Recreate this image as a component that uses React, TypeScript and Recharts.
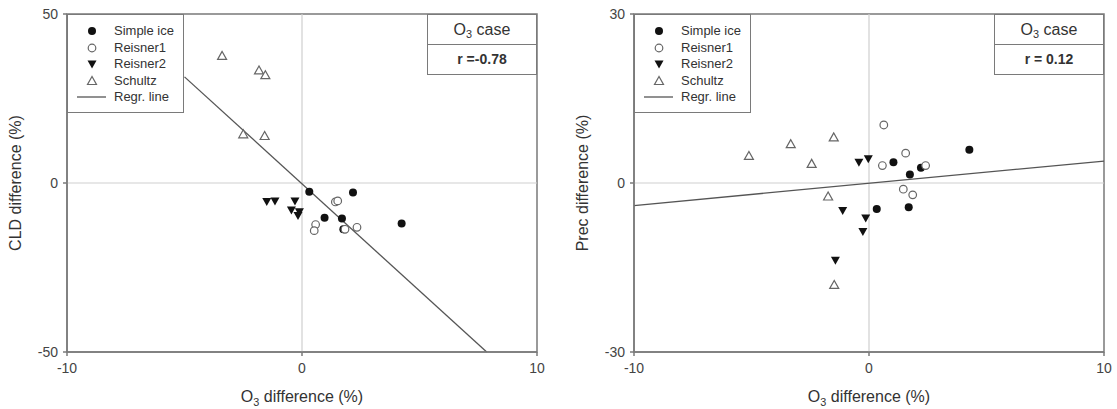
import React from 'react';
import { ScatterChart, Scatter, XAxis, YAxis, ReferenceLine, ReferenceArea } from 'recharts';

// axis ticks
const xTicks = [-10, 0, 10];
const cldTicks = [-50, 0, 50];
const precTicks = [-30, 0, 30];

// left panel: CLD difference vs O3 difference
const cldSimpleIce = [
  { x: 0.31, y: -2.6 }, { x: 2.17, y: -2.8 }, { x: 0.96, y: -10.3 },
  { x: 1.7, y: -10.5 }, { x: 4.24, y: -12.0 }, { x: 1.76, y: -13.7 },
];
const cldReisner1 = [
  { x: 1.42, y: -5.6 }, { x: 1.52, y: -5.3 }, { x: 0.58, y: -12.3 },
  { x: 0.52, y: -14.1 }, { x: 1.83, y: -13.7 }, { x: 2.34, y: -13.1 },
];
const cldReisner2 = [
  { x: -1.5, y: -5.5 }, { x: -1.15, y: -5.3 }, { x: -0.3, y: -5.3 },
  { x: -0.45, y: -8.0 }, { x: -0.11, y: -8.5 }, { x: -0.17, y: -9.6 },
];
const cldSchultz = [
  { x: -3.4, y: 37.6 }, { x: -1.83, y: 33.3 }, { x: -1.56, y: 31.9 },
  { x: -2.5, y: 14.4 }, { x: -1.59, y: 13.9 },
];
const cldRegr = [{ x: -5.0, y: 31.4 }, { x: 7.86, y: -50 }];

// right panel: Prec difference vs O3 difference
const precSimpleIce = [
  { x: 1.04, y: 3.7 }, { x: 1.74, y: 1.5 }, { x: 2.21, y: 2.7 },
  { x: 4.27, y: 5.9 }, { x: 0.33, y: -4.6 }, { x: 1.69, y: -4.3 },
];
const precReisner1 = [
  { x: 0.63, y: 10.3 }, { x: 1.56, y: 5.3 }, { x: 0.57, y: 3.1 },
  { x: 2.41, y: 3.1 }, { x: 1.46, y: -1.1 }, { x: 1.86, y: -2.1 },
];
const precReisner2 = [
  { x: -0.43, y: 3.7 }, { x: -0.03, y: 4.3 }, { x: -1.12, y: -4.9 },
  { x: -0.14, y: -6.2 }, { x: -0.26, y: -8.6 }, { x: -1.43, y: -13.7 },
];
const precSchultz = [
  { x: -5.11, y: 4.8 }, { x: -3.33, y: 6.9 }, { x: -2.44, y: 3.4 },
  { x: -1.5, y: 8.1 }, { x: -1.74, y: -2.4 }, { x: -1.48, y: -18.1 },
];
const precRegr = [{ x: -10, y: -4.0 }, { x: 10, y: 3.9 }];

const FONT = '"Liberation Sans", Arial, Helvetica, sans-serif';
const AXIS = '#7a7a7a';
const TEXT = '#333';

const FilledCircle = (p: any) => <circle cx={p.cx} cy={p.cy} r={4} fill="#111" />;
const OpenCircle = (p: any) => (
  <circle cx={p.cx} cy={p.cy} r={3.8} fill="#fff" stroke="#666" strokeWidth={1.2} />
);
const DownTri = (p: any) => (
  <polygon
    points={`${p.cx - 4.5},${p.cy - 3.5} ${p.cx + 4.5},${p.cy - 3.5} ${p.cx},${p.cy + 4.5}`}
    fill="#111"
  />
);
const UpTri = (p: any) => (
  <polygon
    points={`${p.cx},${p.cy - 4.5} ${p.cx - 4.5},${p.cy + 3.5} ${p.cx + 4.5},${p.cy + 3.5}`}
    fill="#fff"
    stroke="#666"
    strokeWidth={1.2}
  />
);

const O3 = () => (
  <span>
    O<span style={{ fontSize: '0.68em', verticalAlign: '-0.3em' }}>3</span>
  </span>
);

const legendRows = [
  { label: 'Simple ice', shape: FilledCircle },
  { label: 'Reisner1', shape: OpenCircle },
  { label: 'Reisner2', shape: DownTri },
  { label: 'Schultz', shape: UpTri },
];

function LegendBox({ left }: { left: number }) {
  return (
    <div
      style={{
        position: 'absolute', left, top: 14, width: 117, height: 99, boxSizing: 'border-box',
        border: `1.5px solid ${AXIS}`, background: '#fff', fontFamily: FONT, fontSize: 13, color: TEXT,
      }}
    >
      {legendRows.map((row, i) => {
        const Shape = row.shape;
        return (
          <div key={row.label} style={{ position: 'absolute', left: 0, top: 8 + i * 16.5, height: 16, width: 115 }}>
            <svg width={40} height={16} style={{ position: 'absolute', left: 0, top: 0 }}>
              <Shape cx={24} cy={8} />
            </svg>
            <span style={{ position: 'absolute', left: 46, top: 0, lineHeight: '16px' }}>{row.label}</span>
          </div>
        );
      })}
      <div style={{ position: 'absolute', left: 0, top: 8 + 4 * 16.5, height: 16, width: 115 }}>
        <svg width={40} height={16} style={{ position: 'absolute', left: 0, top: 0 }}>
          <line x1={9} x2={38} y1={8} y2={8} stroke="#555" strokeWidth={1.3} />
        </svg>
        <span style={{ position: 'absolute', left: 46, top: 0, lineHeight: '16px' }}>Regr. line</span>
      </div>
    </div>
  );
}

function CaseBox({ left, r }: { left: number; r: string }) {
  return (
    <div
      style={{
        position: 'absolute', left, top: 14, width: 110, height: 61, boxSizing: 'border-box',
        border: `1.5px solid ${AXIS}`, background: '#fff', fontFamily: FONT, color: TEXT,
      }}
    >
      <div style={{ height: 29, borderBottom: `1.5px solid ${AXIS}`, textAlign: 'center', fontSize: 16, lineHeight: '29px' }}>
        <O3 /> case
      </div>
      <div style={{ textAlign: 'center', fontSize: 14, fontWeight: 'bold', lineHeight: '28px' }}>{r}</div>
    </div>
  );
}

interface PanelProps {
  pageLeft: number;
  plotLeft: number;
  yDomain: [number, number];
  yTicks: number[];
  yTitle: string;
  r: string;
  simple: { x: number; y: number }[];
  r1: { x: number; y: number }[];
  r2: { x: number; y: number }[];
  sch: { x: number; y: number }[];
  regr: { x: number; y: number }[];
}

function Panel(props: PanelProps) {
  const { pageLeft, plotLeft, yDomain, yTicks, yTitle, r, simple, r1, r2, sch, regr } = props;
  const W = 560;
  const plotW = 470;
  const tick = { fill: '#444', fontSize: 14, fontFamily: FONT };
  return (
    <>
      <div style={{ position: 'absolute', left: pageLeft, top: 0 }}>
        <ScatterChart width={W} height={409} margin={{ top: 14, right: W - plotLeft - plotW, bottom: 0, left: 0 }}>
          <XAxis
            type="number" dataKey="x" domain={[-10, 10]} ticks={xTicks} height={57}
            tick={tick} tickSize={4} tickMargin={7}
            axisLine={{ stroke: AXIS, strokeWidth: 1.5 }} tickLine={{ stroke: AXIS, strokeWidth: 1.5 }}
          />
          <YAxis
            type="number" dataKey="y" domain={yDomain} ticks={yTicks} width={plotLeft}
            tick={tick} tickSize={4} tickMargin={5}
            axisLine={{ stroke: AXIS, strokeWidth: 1.5 }} tickLine={{ stroke: AXIS, strokeWidth: 1.5 }}
          />
          <ReferenceLine x={0} stroke="#cfcfcf" strokeWidth={1.2} />
          <ReferenceLine y={0} stroke="#cfcfcf" strokeWidth={1.2} />
          <ReferenceArea
            x1={-10} x2={10} y1={yDomain[0]} y2={yDomain[1]}
            fill="none" fillOpacity={0} stroke={AXIS} strokeWidth={1.5}
          />
          <ReferenceLine segment={regr} stroke="#555" strokeWidth={1.3} />
          <Scatter data={sch} shape={UpTri} isAnimationActive={false} />
          <Scatter data={r2} shape={DownTri} isAnimationActive={false} />
          <Scatter data={simple} shape={FilledCircle} isAnimationActive={false} />
          <Scatter data={r1} shape={OpenCircle} isAnimationActive={false} />
        </ScatterChart>
      </div>
      <LegendBox left={pageLeft + plotLeft} />
      <CaseBox left={pageLeft + plotLeft + plotW - 110} r={r} />
      <div
        style={{
          position: 'absolute', left: pageLeft + plotLeft - 51, top: 183, fontFamily: FONT, fontSize: 16,
          color: TEXT, whiteSpace: 'nowrap', transform: 'translate(-50%, -50%) rotate(-90deg)',
        }}
      >
        {yTitle}
      </div>
      <div
        style={{
          position: 'absolute', left: pageLeft + plotLeft + plotW / 2, top: 398, fontFamily: FONT, fontSize: 16,
          color: TEXT, whiteSpace: 'nowrap', transform: 'translate(-50%, -50%)',
        }}
      >
        <O3 /> difference (%)
      </div>
    </>
  );
}

export default function App() {
  return (
    <div style={{ position: 'absolute', left: 0, top: 0, width: 1117, height: 409, background: '#fff', overflow: 'hidden' }}>
      <Panel
        pageLeft={0} plotLeft={67} yDomain={[-50, 50]} yTicks={cldTicks} yTitle="CLD difference (%)" r="r =-0.78"
        simple={cldSimpleIce} r1={cldReisner1} r2={cldReisner2} sch={cldSchultz} regr={cldRegr}
      />
      <Panel
        pageLeft={560} plotLeft={74} yDomain={[-30, 30]} yTicks={precTicks} yTitle="Prec difference (%)" r="r = 0.12"
        simple={precSimpleIce} r1={precReisner1} r2={precReisner2} sch={precSchultz} regr={precRegr}
      />
    </div>
  );
}
